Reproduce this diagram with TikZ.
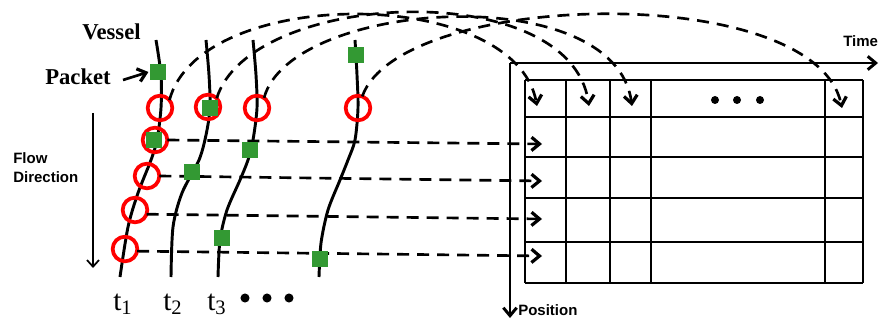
\documentclass[tikz,border=0pt]{standalone}
\usepackage{fontspec}
\setmainfont{Liberation Serif}
\setsansfont{Liberation Sans}
\usetikzlibrary{arrows.meta}
\definecolor{pkgreen}{HTML}{339933}
\begin{document}
\begin{tikzpicture}[x=0.75pt,y=-0.75pt,
  vessel/.style={line width=2.2pt},
  barb/.style={-{Straight Barb[length=6pt,width=10pt,line width=2.4pt]}},
  flowdash/.style={line width=2pt, dash pattern=on 9pt off 6pt, barb},
  ring/.style={circle, draw=red, line width=2.8pt, minimum size=18.5pt, inner sep=0pt, outer sep=0pt},
  packet/.style={rectangle, fill=pkgreen, minimum size=12pt, inner sep=0pt},
  gridline/.style={line width=1.4pt},
  axis/.style={line width=2.2pt, -{Straight Barb[length=6pt,width=10pt]}},
  serifbold/.style={font=\fontsize{17}{20}\selectfont\bfseries, inner sep=0pt},
  sanslabel/.style={font=\fontsize{11.25}{13}\selectfont\sffamily\bfseries, inner sep=0pt},
  tlabel/.style={font=\fontsize{22}{24}\selectfont, inner sep=0pt},
]
\useasboundingbox (0,0) rectangle (880,320);

% ---- table ----
\foreach \yy in {80,117,157,198,242,283} \draw[gridline] (525,\yy) -- (863,\yy);
\foreach \xx in {525,566,610,651,825,863} \draw[gridline] (\xx,80) -- (\xx,283);
\foreach \xx in {715,737,760} \fill (\xx,100) circle (3pt);

% ---- axes ----
\coordinate (origin) at (510,63);
\coordinate (timeend) at (878,63);
\coordinate (posend) at (510,318);
\draw[axis] (origin) -- (timeend);
\draw[axis] (origin) -- (posend);
\node[sanslabel, anchor=base west] (time) at (843,47) {Time};
\node[sanslabel, anchor=base west] (position) at (518,315) {Position};

% ---- vessels ----
\draw[vessel] plot[smooth] coordinates {(156,40) (161,75) (161,108) (157,140) (151,160) (138,193) (128,227) (120,277)};
\draw[vessel] plot[smooth] coordinates {(206,40) (209,75) (210,108) (206,135) (199,160) (182,193) (173,227) (171,277)};
\draw[vessel] plot[smooth] coordinates {(253,40) (256,75) (257,108) (253,140) (248,160) (240,180) (227,210) (220,240) (218,277)};
\draw[vessel] plot[smooth] coordinates {(355,40) (357,75) (358,108) (355,140) (348,160) (340,180) (328,210) (321,243) (319,277)};

% ---- rings ----
\node[ring] (c1) at (160,108) {};
\node[ring] (c2) at (208,107) {};
\node[ring] (c3) at (257,108) {};
\node[ring] (c4) at (358,108) {};
\node[ring] (c5) at (155,140) {};
\node[ring] (c6) at (147,176) {};
\node[ring] (c7) at (135,210) {};
\node[ring] (c8) at (125,249) {};

% ---- arrow targets ----
\coordinate (a1) at (537,106);
\coordinate (a2) at (589,106);
\coordinate (a3) at (632,106);
\coordinate (a4) at (842,108);
\coordinate (r1) at (542,144);
\coordinate (r2) at (542,181);
\coordinate (r3) at (542,219);
\coordinate (r4) at (542,256);

% ---- dashed connectors ----
\draw[flowdash] (c1.40) .. controls (200,-15) and (515,-15) .. (a1);
\draw[flowdash] (c2.45) .. controls (250,-10) and (570,-25) .. (a2);
\draw[flowdash] (c3.55) .. controls (290,0) and (615,-22) .. (a3);
\draw[flowdash] (c4.70) .. controls (400,-10) and (815,-20) .. (a4);
\draw[flowdash] (c5.east) -- (r1);
\draw[flowdash] (c6.east) -- (r2);
\draw[flowdash] (c7.-20) -- (r3);
\draw[flowdash] (c8.-10) -- (r4);

% ---- packets ----
\node[packet] (s1) at (158,72) {};
\node[packet] (s2) at (210,108) {};
\node[packet] (s3) at (356,55) {};
\node[packet] (s4) at (154,140) {};
\node[packet] (s5) at (250,150) {};
\node[packet] (s6) at (192,172) {};
\node[packet] (s7) at (222,238) {};
\node[packet] (s8) at (320,259) {};

% ---- labels ----
\node[serifbold, anchor=base west] (vessel) at (82,40) {Vessel};
\node[serifbold, anchor=base west] (packetlbl) at (45,85) {Packet};
\coordinate (pa) at (123,80);
\draw[line width=2pt, barb] (pa) -- ([xshift=-1pt]s1.west);

\node[sanslabel, anchor=base west] (flow) at (13,164) {Flow};
\node[sanslabel, anchor=base west] (direction) at (13,183) {Direction};
\coordinate (ftop) at (93,113);
\coordinate (fbot) at (93,268);
\draw[line width=1.3pt, -{Straight Barb[length=5pt,width=9pt]}] (ftop) -- (fbot);

\node[tlabel, anchor=base west] (t1) at (113,310) {t\textsubscript{1}};
\node[tlabel, anchor=base west] (t2) at (163,310) {t\textsubscript{2}};
\node[tlabel, anchor=base west] (t3) at (207,310) {t\textsubscript{3}};
\foreach \xx in {245,267,289} \fill (\xx,298) circle (3.4pt);
\end{tikzpicture}
\end{document}
